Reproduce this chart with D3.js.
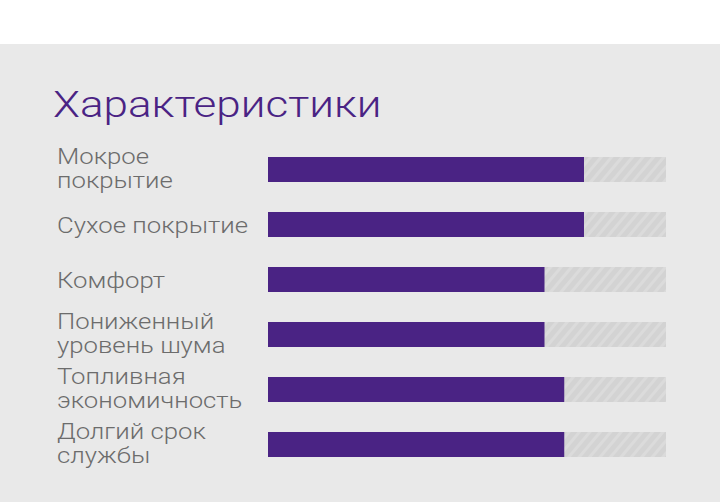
<!DOCTYPE html>
<html>
<head>
<meta charset="utf-8">
<script src="https://cdn.jsdelivr.net/npm/d3@7"></script>
<style>
  html, body { margin: 0; padding: 0; background: #ffffff; }
  svg { display: block; }
</style>
</head>
<body>
<svg id="chart" width="720" height="502"></svg>
<script>
const title = "Характеристики";
const categories = [
  ["Мокрое", "покрытие"],
  ["Сухое покрытие"],
  ["Комфорт"],
  ["Пониженный", "уровень шума"],
  ["Топливная", "экономичность"],
  ["Долгий срок", "службы"]
];
const values = [8, 8, 7, 7, 7.5, 7.5];
const maxValue = 10;

const svg = d3.select("#chart");
const W = 720, H = 502;
const purple = "#4a2384";

svg.append("rect").attr("x", 0).attr("y", 44).attr("width", W).attr("height", H - 44).attr("fill", "#e9e9e9");

const defs = svg.append("defs");
const pat = defs.append("pattern")
  .attr("id", "hatch")
  .attr("patternUnits", "userSpaceOnUse")
  .attr("width", 8).attr("height", 8)
  .attr("patternTransform", "rotate(40)");
pat.append("rect").attr("width", 8).attr("height", 8).attr("fill", "#d3d3d3");
pat.append("rect").attr("width", 3).attr("height", 8).attr("fill", "#dbdbdb");

svg.append("text")
  .attr("transform", "translate(53,117) scale(1.19,1)")
  .attr("font-family", "Roboto, sans-serif")
  .attr("font-weight", 300)
  .attr("font-size", 37)
  .attr("fill", purple)
  .text(title);

const x = d3.scaleLinear().domain([0, maxValue]).range([268, 663]);
const y = d3.scaleBand().domain(d3.range(categories.length)).range([142, 472]).paddingInner(0.5454).paddingOuter(0.2727);

const rows = svg.append("g").selectAll("g").data(categories).join("g");

rows.append("rect")
  .attr("x", x(0))
  .attr("y", (d, i) => y(i))
  .attr("width", x(maxValue) - x(0) + 3)
  .attr("height", y.bandwidth())
  .attr("fill", "url(#hatch)");

rows.append("rect")
  .attr("x", x(0))
  .attr("y", (d, i) => y(i))
  .attr("width", (d, i) => x(values[i]) - x(0))
  .attr("height", y.bandwidth())
  .attr("fill", purple);

rows.each(function(d, i) {
  const c = y(i) + y.bandwidth() / 2;
  const lines = d.length === 1 ? [c + 8] : [c - 5.5, c + 18.5];
  d.forEach((line, k) => {
    d3.select(this).append("text")
      .attr("transform", `translate(57,${lines[k]}) scale(1.17,1)`)
      .attr("font-family", "Roboto, sans-serif")
      .attr("font-weight", 300)
      .attr("font-size", 22)
      .attr("fill", "#6c6c6c")
      .text(line);
  });
});
</script>
</body>
</html>
